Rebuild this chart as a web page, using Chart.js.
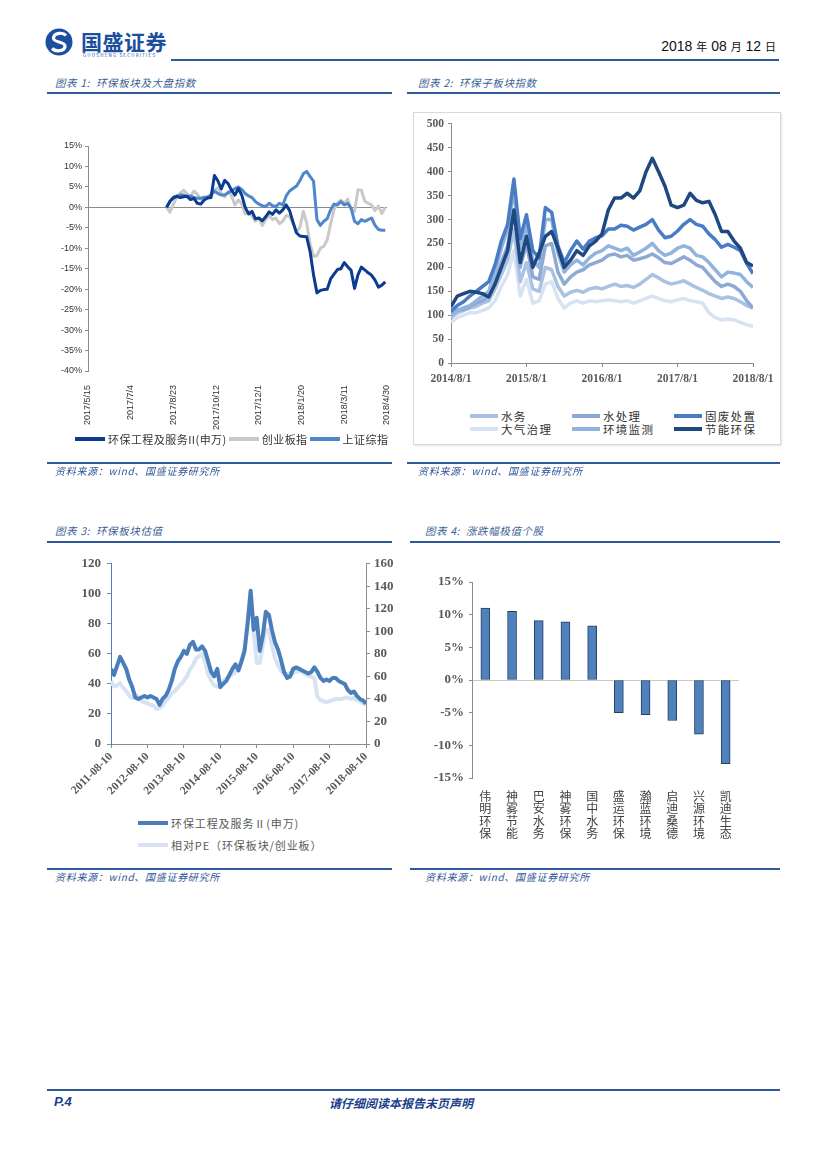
<!DOCTYPE html>
<html><head><meta charset="utf-8">
<script src="https://cdn.jsdelivr.net/npm/chart.js@4.4.1/dist/chart.umd.min.js"></script>
<style>
body{margin:0;background:#fff;width:827px;height:1169px;position:relative;overflow:hidden;font-family:"Noto Sans CJK SC","Noto Sans",sans-serif;}
.t{position:absolute;white-space:nowrap;}
.title{font-style:italic;color:#3b5f95;font-size:10.5px;letter-spacing:0.6px;}
.src{font-style:italic;color:#2f5597;font-size:10px;letter-spacing:0.7px;}
.rule{position:absolute;height:2px;background:#2f5a9a;}
canvas{position:absolute;}
.lg{position:absolute;white-space:nowrap;display:flex;align-items:center;color:#333;}
.lg i{display:inline-block;height:4px;margin-right:3px;}
.frame{position:absolute;border:1px solid #d9d9d9;box-shadow:1px 1px 2px #e4e4e4;}
</style></head><body>

<svg class="t" style="left:44px;top:26px" width="32" height="32" viewBox="44 26 32 32">
  <circle cx="59" cy="42" r="13.5" fill="#1b4f9e"/>
  <path d="M66,35.5 C63,32 54,32.5 53.5,38 C53,43 65.5,41 65,46.5 C64.5,51.5 55.5,52 52,48.5" stroke="#fff" stroke-width="3.2" fill="none"/>
</svg>
<div class="t" style="left:81px;top:26px;font-size:21px;font-weight:bold;color:#1b4f9e;letter-spacing:0.5px">国盛证券</div>
<div class="t" style="left:83px;top:52px;font-size:4.5px;color:#1b4f9e;letter-spacing:1.2px">GUOSHENG SECURITIES</div>
<div class="t" style="right:51px;top:38px;font-size:14px;color:#111;font-family:'Liberation Sans Narrow','Liberation Sans',sans-serif">2018 <span style="font-family:'Noto Sans CJK SC';font-size:11px">年</span> 08 <span style="font-family:'Noto Sans CJK SC';font-size:11px">月</span> 12 <span style="font-family:'Noto Sans CJK SC';font-size:11px">日</span></div>
<div class="rule" style="left:171px;top:59px;width:608px"></div>

<div class="t title" style="left:55px;top:75px">图表 1:&nbsp; 环保板块及大盘指数</div>
<div class="rule" style="left:47px;top:92px;width:345px"></div>
<div class="t title" style="left:418px;top:75px">图表 2:&nbsp; 环保子板块指数</div>
<div class="rule" style="left:407px;top:92px;width:373px"></div>

<div class="frame" style="left:413px;top:112px;width:366px;height:331px"></div>

<canvas id="c1" width="345" height="340" style="left:47px;top:100px"></canvas>
<canvas id="c2" width="366" height="290" style="left:413px;top:113px"></canvas>

<div class="lg" style="left:75px;top:431px;font-size:11px;letter-spacing:0.45px">
 <i style="width:30px;background:#0b3c8f"></i>环保工程及服务II(申万)
 <i style="width:30px;background:#c9c9c9;margin-left:2px"></i>创业板指
 <i style="width:30px;background:#4f86cc;margin-left:2px"></i>上证综指
</div>

<div class="lg" style="left:470px;top:408px;font-size:11.5px;letter-spacing:1.3px"><i style="width:28px;background:#a9c2e2"></i>水务</div>
<div class="lg" style="left:572px;top:408px;font-size:11.5px;letter-spacing:1.3px"><i style="width:28px;background:#8ea9d4"></i>水处理</div>
<div class="lg" style="left:674px;top:408px;font-size:11.5px;letter-spacing:1.3px"><i style="width:28px;background:#4a7cc6"></i>固废处置</div>
<div class="lg" style="left:470px;top:421px;font-size:11.5px;letter-spacing:1.3px"><i style="width:28px;background:#d8e3f2"></i>大气治理</div>
<div class="lg" style="left:572px;top:421px;font-size:11.5px;letter-spacing:1.3px"><i style="width:28px;background:#91b3e0"></i>环境监测</div>
<div class="lg" style="left:674px;top:421px;font-size:11.5px;letter-spacing:1.3px"><i style="width:28px;background:#1f4880"></i>节能环保</div>

<div class="rule" style="left:47px;top:462px;width:345px"></div>
<div class="t src" style="left:55px;top:463px">资料来源：wind、国盛证券研究所</div>
<div class="rule" style="left:407px;top:462px;width:373px"></div>
<div class="t src" style="left:418px;top:463px">资料来源：wind、国盛证券研究所</div>

<div class="t title" style="left:55px;top:523px">图表 3:&nbsp; 环保板块估值</div>
<div class="rule" style="left:47px;top:541px;width:345px"></div>
<div class="t title" style="left:425px;top:523px">图表 4:&nbsp; 涨跌幅极值个股</div>
<div class="rule" style="left:410px;top:541px;width:370px"></div>

<canvas id="c3" width="350" height="265" style="left:47px;top:550px"></canvas>
<canvas id="c4" width="340" height="285" style="left:410px;top:560px"></canvas>

<div class="lg" style="left:138px;top:815px;font-size:11px;color:#595959;letter-spacing:0.9px"><i style="width:30px;background:#4a7ebb"></i>环保工程及服务Ⅱ(申万)</div>
<div class="lg" style="left:138px;top:837px;font-size:11px;color:#595959;letter-spacing:0.9px"><i style="width:30px;background:#d7e3f3"></i>相对PE（环保板块/创业板）</div>

<div class="rule" style="left:47px;top:868px;width:345px"></div>
<div class="t src" style="left:55px;top:869px">资料来源：wind、国盛证券研究所</div>
<div class="rule" style="left:410px;top:868px;width:370px"></div>
<div class="t src" style="left:425px;top:869px">资料来源：wind、国盛证券研究所</div>

<div class="rule" style="left:47px;top:1089px;width:733px"></div>
<div class="t" style="left:54px;top:1094px;font-size:13px;font-weight:bold;font-style:italic;color:#1b3f8a;font-family:'Liberation Sans',sans-serif">P.4</div>
<div class="t" style="left:329px;top:1094px;font-size:12px;font-weight:bold;font-style:italic;color:#1b3f8a">请仔细阅读本报告末页声明</div>

<script>
// ---------- Chart 1 data (day offset from 2017/5/15, every 4 days from day 92) ----------
const c1TickLabels = ['2017/5/15','2017/7/4','2017/8/23','2017/10/12','2017/12/1','2018/1/20','2018/3/11','2018/4/30'];
const c1FirstDay = 92, c1StepDays = 4;
const c1Sector = [0,1.5,2.3,2.7,2.4,2.6,2.7,1.9,2.2,1.0,0.8,1.8,2.3,2.4,7.8,6.5,4.5,6.6,5.8,4.2,3.0,4.6,3.0,0.0,-1.6,-1.0,-2.8,-2.6,-3.3,-2.3,-1.1,-1.7,-0.6,-1.4,-0.6,0.6,-0.8,-3.6,-6.2,-7.0,-7.1,-7.2,-10.8,-16.5,-20.9,-20.3,-20.1,-20.0,-17.5,-16.3,-15.2,-15.0,-13.5,-14.5,-15.4,-19.8,-16.5,-14.6,-15.3,-16.0,-16.6,-17.8,-19.5,-19.0,-18.2];
const c1ChiNext = [0,-1.2,0.8,2.5,3.5,4.2,3.3,2.6,4.0,3.2,2.0,2.2,2.6,3.0,4.2,4.8,3.4,2.6,3.8,2.8,0.6,1.8,0.8,-1.6,-1.0,-2.2,-3.4,-2.6,-4.4,-3.0,-2.0,-3.0,-2.6,-4.0,-3.4,-2.0,-2.2,-4.0,-6.0,-5.0,-1.0,-3.8,-9.0,-12.0,-11.8,-10.0,-9.5,-8.0,-4.0,-0.5,1.0,1.8,1.0,2.0,-0.5,-1.0,4.3,4.2,1.5,1.0,0.6,-0.8,0.3,-1.5,0.0];
const c1SSE = [0,1.5,2.5,2.8,3.0,3.0,2.6,2.8,2.4,2.2,2.2,2.5,2.5,3.0,4.0,3.4,3.0,3.0,3.6,4.0,4.6,5.0,4.4,3.4,2.8,2.4,1.4,0.8,0.4,0.2,1.0,0.4,0.2,1.0,0.6,2.8,4.0,4.6,5.2,6.5,8.2,8.8,7.5,6.4,-3.0,-4.4,-3.4,-2.8,-0.6,0.8,0.6,1.4,0.6,1.0,-0.2,-3.4,-4.0,-3.0,-3.4,-3.0,-2.6,-4.4,-5.4,-5.6,-5.6];

// ---------- Chart 2 data (monthly, month 0 = 2014/8) ----------
const c2TickLabels = ['2014/8/1','2015/8/1','2016/8/1','2017/8/1','2018/8/1'];
const c2Water = [95,105,110,115,118,125,130,155,185,215,280,170,210,155,150,200,195,160,140,148,152,148,155,158,155,160,165,160,162,158,165,175,185,178,170,165,168,172,165,158,152,145,140,135,138,135,128,120,115];
const c2WaterTreat = [100,110,112,118,125,130,140,170,210,245,320,200,250,180,175,245,250,190,165,180,190,195,205,210,215,225,228,222,225,215,218,222,228,220,210,208,215,222,215,205,200,185,170,160,165,160,150,130,115];
const c2SolidWaste = [108,120,128,140,150,160,170,205,255,290,385,260,310,235,220,325,315,245,210,235,255,238,255,262,266,280,280,288,286,278,284,290,300,278,262,265,276,290,300,290,286,270,258,242,248,242,235,208,187];
const c2Air = [85,95,100,105,105,110,115,130,160,185,235,140,175,125,130,165,170,135,115,125,130,125,130,128,130,132,130,128,130,125,130,135,140,135,130,128,132,135,130,128,125,105,95,90,92,90,85,80,77];
const c2Monitor = [100,110,115,120,130,140,150,190,240,280,360,240,290,215,200,300,300,230,190,205,215,205,220,230,235,245,240,235,240,225,232,240,250,235,225,230,240,245,240,225,222,210,195,180,190,188,185,170,158];
const c2Energy = [118,140,145,150,148,145,138,165,200,235,320,210,265,200,230,265,275,240,200,215,235,225,245,255,270,320,345,345,355,345,360,400,428,400,370,330,325,330,355,340,335,338,310,275,275,255,240,210,203];

// ---------- Chart 3 data (monthly, month 0 = 2011-08) ----------
const c3TickLabels = ['2011-08-10','2012-08-10','2013-08-10','2014-08-10','2015-08-10','2016-08-10','2017-08-10','2018-08-10'];
const c3SectorPE = [50,46,52,58,54,50,43,38,31,30,31,32,31,32,31,30,26,30,32,36,42,50,55,58,62,60,66,68,63,63,65,62,55,48,45,50,38,40,42,46,50,53,49,55,62,80,102,76,84,62,72,88,86,76,68,63,56,48,44,45,50,51,50,49,48,47,48,51,48,44,42,43,42,44,44,42,41,40,36,34,35,32,30,29,27];
const c3RelativePE = [56,51,52,54,50,47,43,41,44,42,38,37,36,35,34,31,32,34,38,41,45,47,50,53,56,60,66,70,76,78,80,73,62,56,52,51,50,56,58,60,62,64,68,75,85,110,136,100,72,72,88,102,100,88,76,70,65,62,62,63,63,64,65,64,62,61,60,58,42,39,38,37,38,39,40,40,40,41,41,40,41,39,38,36,35];

// ---------- Chart 4 data ----------
const c4Stocks = ['伟明环保','神雾节能','巴安水务','神雾环保','国中水务','盛运环保','瀚蓝环境','启迪桑德','兴源环境','凯迪生态'];
const c4Change = [11.0,10.5,9.1,8.9,8.3,-5.0,-5.3,-6.2,-8.3,-12.8];

Chart.defaults.animation = false;
Chart.defaults.responsive = false;
Chart.defaults.events = [];
Chart.defaults.plugins.legend.display = false;
Chart.defaults.plugins.tooltip.enabled = false;

const serifBold = {family:"'Liberation Serif','Noto Sans CJK SC',serif", size:12, weight:'bold'};
const ptsIdx = (arr, start, step) => arr.map((v,i)=>({x:start+i*step, y:v}));
const line = (data, color, w) => ({data, borderColor:color, borderWidth:w, pointRadius:0, tension:0, fill:false, borderJoinStyle:'round'});
const fixH = h => s => { s.height = h; s.paddingLeft = 0; s.paddingRight = 0; };

// Chart 1
new Chart(document.getElementById('c1'), {
  type:'line',
  data:{datasets:[
    line(ptsIdx(c1Sector,c1FirstDay,c1StepDays),'#0b3c8f',3),
    line(ptsIdx(c1SSE,c1FirstDay,c1StepDays),'#4f86cc',3),
    line(ptsIdx(c1ChiNext,c1FirstDay,c1StepDays),'#c9c9c9',3)
  ]},
  options:{
    layout:{padding:{left:0,top:46,right:5,bottom:0}},
    scales:{
      x:{type:'linear',min:0,max:350,afterFit:fixH(69),
        ticks:{stepSize:50,autoSkip:false,maxRotation:90,minRotation:90,padding:6,color:'#333',
          font:{family:"'Liberation Sans',sans-serif",size:9},
          callback:v=>c1TickLabels[Math.round(v/50)]},
        grid:{display:false},border:{display:false}},
      y:{min:-40,max:15,afterFit:s=>{s.width=41;},
        ticks:{stepSize:5,padding:3,color:'#333',font:{family:"'Liberation Sans',sans-serif",size:9},callback:v=>v+'%'},
        grid:{color:c=>(c.tick&&c.tick.value===0)?'#8c8c8c':'rgba(0,0,0,0)',tickColor:'#8c8c8c',tickLength:3},
        border:{display:true,color:'#8c8c8c'}}
    }
  }
});

// Chart 2
new Chart(document.getElementById('c2'), {
  type:'line',
  data:{datasets:[
    line(ptsIdx(c2Energy,0,1),'#1f4880',3.5),
    line(ptsIdx(c2SolidWaste,0,1),'#4a7cc6',3.5),
    line(ptsIdx(c2Monitor,0,1),'#91b3e0',3.5),
    line(ptsIdx(c2WaterTreat,0,1),'#8ea9d4',3.5),
    line(ptsIdx(c2Water,0,1),'#a9c2e2',3.5),
    line(ptsIdx(c2Air,0,1),'#d8e3f2',3.5)
  ]},
  options:{
    layout:{padding:{left:0,top:7,right:26,bottom:0}},
    scales:{
      x:{type:'linear',min:0,max:48,afterFit:fixH(40),
        ticks:{stepSize:12,autoSkip:false,maxRotation:0,padding:5,color:'#595959',font:{...serifBold,size:11.5},
          callback:v=>c2TickLabels[Math.round(v/12)]},
        grid:{drawOnChartArea:false,tickLength:4,color:'#8c8c8c'},border:{color:'#8c8c8c'}},
      y:{min:0,max:500,afterFit:s=>{s.width=38;},
        ticks:{stepSize:50,padding:4,color:'#595959',font:{...serifBold,size:11.5}},
        grid:{drawOnChartArea:false,tickLength:3,color:'#8c8c8c'},border:{color:'#8c8c8c'}}
    }
  }
});

// Chart 3
new Chart(document.getElementById('c3'), {
  type:'line',
  data:{datasets:[
    {...line(ptsIdx(c3SectorPE,0,1),'#4a7ebb',4),yAxisID:'y'},
    {...line(ptsIdx(c3RelativePE,0,1),'#d7e3f3',4),yAxisID:'y2'}
  ]},
  options:{
    layout:{padding:{left:0,top:13,right:0,bottom:0}},
    scales:{
      x:{type:'linear',min:0,max:84,afterFit:fixH(71),
        ticks:{stepSize:12,autoSkip:false,maxRotation:45,minRotation:45,padding:2,color:'#595959',font:{...serifBold,size:11.5},
          callback:v=>c3TickLabels[Math.round(v/12)]},
        grid:{drawOnChartArea:false,tickLength:4,color:'#8c8c8c'},border:{color:'#8c8c8c'}},
      y:{position:'left',min:0,max:120,afterFit:s=>{s.width=64;},
        ticks:{stepSize:20,padding:6,color:'#595959',font:{...serifBold,size:13}},
        grid:{drawOnChartArea:false,tickLength:4,color:'#8c8c8c'},border:{color:'#4f7fc0'}},
      y2:{position:'right',min:0,max:160,afterFit:s=>{s.width=31;},
        ticks:{stepSize:20,padding:4,color:'#595959',font:{...serifBold,size:13}},
        grid:{drawOnChartArea:false,tickLength:4,color:'#8c8c8c'},border:{color:'#8c8c8c'}}
    }
  }
});

// Chart 4
new Chart(document.getElementById('c4'), {
  type:'bar',
  data:{labels:c4Stocks.map(s=>s.split('')),
    datasets:[{data:c4Change,backgroundColor:'#4f81bd',borderColor:'#243f60',borderWidth:1,barThickness:9,borderSkipped:false}]},
  options:{
    layout:{padding:{left:0,top:22,right:11,bottom:0}},
    scales:{
      x:{afterFit:fixH(67),
        ticks:{autoSkip:false,maxRotation:0,padding:4,color:'#404040',
          font:{family:"'Noto Sans CJK SC',sans-serif",size:12,lineHeight:1.04}},
        grid:{display:false},border:{display:false}},
      y:{min:-15,max:15,afterFit:s=>{s.width=62;},
        ticks:{stepSize:5,padding:5,color:'#595959',font:{...serifBold,size:13},callback:v=>v+'%'},
        grid:{color:c=>(c.tick&&c.tick.value===0)?'#c8c8c8':'rgba(0,0,0,0)',tickColor:'#8c8c8c',tickLength:3},
        border:{color:'#8c8c8c'}}
    }
  }
});
</script>
</body></html>
